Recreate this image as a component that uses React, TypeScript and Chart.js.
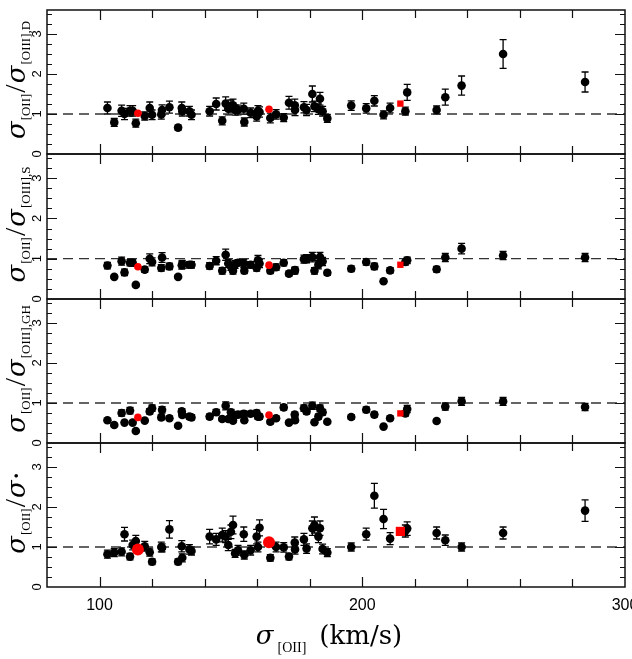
import React, { useEffect, useRef } from "react";
import { Chart, registerables } from "chart.js";

Chart.register(...registerables);

// ---------------- data ----------------
const sigmaOII = [
  103, 105.6, 108.4, 109.5, 111.6, 112.6, 113.8, 117.2, 119.1, 120,
  123.5, 123.8, 126.6, 129.9, 131.3, 131.5, 134.2, 135, 141.9, 144.4,
  146.7, 148, 149, 150, 150.8, 151.6, 152.7, 154.9, 155.1, 157.5,
  159.8, 160.3, 160.9, 165, 167.2, 170.1, 172.1, 174.3, 174.4, 177.8,
  178.8, 181, 181.8, 183.3, 183.9, 184.9, 186.7, 195.8, 201.5, 204.6,
  208.1, 210.6, 216.4, 217.1, 228.3, 231.6, 237.8, 253.6, 284.8,
];

const ratioD = [
  1.15, 0.79, 1.08, 1.0, 1.08, 1.08, 0.77, 0.95, 1.15, 0.98,
  0.99, 1.1, 1.17, 0.66, 1.15, 1.07, 1.07, 0.98, 1.07, 1.25,
  0.83, 1.26, 1.13, 1.2, 1.22, 1.1, 1.1, 1.13, 0.8, 1.03,
  0.94, 1.08, 1.05, 0.9, 0.99, 0.91, 1.28, 1.22, 1.1, 1.17,
  1.1, 1.5, 1.19, 1.12, 1.38, 1.07, 0.89, 1.21, 1.14, 1.33,
  0.98, 1.15, 1.07, 1.54, 1.1, 1.42, 1.71, 2.5, 1.8,
];
const errD = [
  0.15, 0.1, 0.14, 0.14, 0.13, 0.13, 0.1, 0.1, 0.15, 0.12,
  0.12, 0.13, 0.15, 0.06, 0.15, 0.12, 0.12, 0.12, 0.12, 0.15,
  0.1, 0.17, 0.15, 0.15, 0.15, 0.13, 0.12, 0.14, 0.1, 0.12,
  0.12, 0.13, 0.13, 0.12, 0.12, 0.1, 0.16, 0.15, 0.14, 0.14,
  0.14, 0.2, 0.13, 0.13, 0.16, 0.12, 0.1, 0.12, 0.12, 0.13,
  0.1, 0.12, 0.1, 0.2, 0.1, 0.2, 0.24, 0.36, 0.25,
];

const ratioS = [
  0.83, 0.55, 0.94, 0.66, 0.9, 0.9, 0.35, 0.73, 1.0, 0.92,
  0.77, 1.03, 0.81, 0.55, 0.84, 0.86, 0.85, 0.85, 0.82, 0.95,
  0.7, 1.1, 0.88, 0.81, 0.7, 0.86, 0.9, 0.88, 0.7, 0.85,
  0.77, 0.96, 0.88, 0.7, 0.79, 0.9, 0.63, 0.7, 0.72, 0.99,
  1.0, 1.04, 0.7, 0.85, 1.04, 0.93, 0.65, 0.75, 0.92, 0.81,
  0.44, 0.71, 0.92, 0.96, 0.74, 1.03, 1.25, 1.08, 1.03,
];
const errS = [
  0.08, 0.04, 0.1, 0.08, 0.08, 0.08, 0.04, 0.07, 0.12, 0.1,
  0.08, 0.12, 0.08, 0.04, 0.1, 0.1, 0.08, 0.08, 0.08, 0.1,
  0.08, 0.14, 0.1, 0.1, 0.08, 0.1, 0.08, 0.1, 0.07, 0.08,
  0.08, 0.12, 0.1, 0.07, 0.08, 0.08, 0.06, 0.08, 0.08, 0.1,
  0.1, 0.12, 0.08, 0.1, 0.12, 0.1, 0.06, 0.07, 0.08, 0.08,
  0.04, 0.07, 0.08, 0.08, 0.07, 0.1, 0.13, 0.1, 0.1,
];

const ratioGH = [
  0.57, 0.45, 0.75, 0.51, 0.81, 0.51, 0.3, 0.56, 0.79, 0.87,
  0.64, 0.83, 0.62, 0.43, 0.79, 0.7, 0.66, 0.64, 0.66, 0.77,
  0.6, 0.93, 0.6, 0.77, 0.56, 0.7, 0.71, 0.73, 0.57, 0.73,
  0.75, 0.66, 0.66, 0.53, 0.62, 0.89, 0.51, 0.71, 0.57, 0.87,
  0.79, 0.93, 0.52, 0.66, 0.87, 0.77, 0.53, 0.65, 0.83, 0.71,
  0.41, 0.62, 0.74, 0.85, 0.55, 0.91, 1.04, 1.04, 0.9,
];
const errGH = [
  0.04, 0.04, 0.08, 0.04, 0.08, 0.04, 0.04, 0.04, 0.07, 0.08,
  0.06, 0.08, 0.05, 0.04, 0.07, 0.06, 0.06, 0.06, 0.06, 0.07,
  0.05, 0.1, 0.05, 0.07, 0.05, 0.06, 0.06, 0.07, 0.05, 0.06,
  0.07, 0.06, 0.06, 0.05, 0.05, 0.07, 0.04, 0.06, 0.05, 0.08,
  0.07, 0.09, 0.04, 0.06, 0.08, 0.07, 0.04, 0.06, 0.07, 0.06,
  0.04, 0.05, 0.07, 0.09, 0.04, 0.09, 0.1, 0.1, 0.09,
];

const ratioStar = [
  0.82, 0.86, 0.88, 1.32, 0.76, 1.05, 1.15, 1.02, 0.87, 0.63,
  1.0, 0.98, 1.44, 0.63, 1.02, 0.73, 0.94, 0.9, 1.26, 1.19,
  1.3, 1.26, 1.05, 1.38, 1.55, 0.84, 0.92, 1.32, 0.8, 0.92,
  1.26, 1.0, 1.48, 0.73, 1.0, 0.99, 0.76, 1.11, 0.94, 1.19,
  0.96, 1.47, 1.55, 1.26, 1.47, 0.95, 0.86, 1.0, 1.32, 2.28,
  1.7, 1.21, 1.4, 1.46, 1.35, 1.17, 1.0, 1.35, 1.91,
];
const errStar = [
  0.1, 0.1, 0.1, 0.17, 0.08, 0.12, 0.14, 0.12, 0.1, 0.07,
  0.12, 0.1, 0.22, 0.07, 0.14, 0.1, 0.12, 0.1, 0.18, 0.15,
  0.17, 0.15, 0.14, 0.17, 0.22, 0.1, 0.12, 0.18, 0.1, 0.12,
  0.18, 0.12, 0.2, 0.08, 0.12, 0.12, 0.08, 0.14, 0.12, 0.15,
  0.12, 0.18, 0.2, 0.15, 0.18, 0.12, 0.1, 0.1, 0.15, 0.31,
  0.24, 0.15, 0.15, 0.17, 0.15, 0.13, 0.1, 0.15, 0.27,
];

// red (special) objects
const redSigmaCircle = [114.6, 164.5];
const redSigmaSquare = [214.5];
const redD = [1.02, 1.12, 1.26];
const redS = [0.8, 0.84, 0.85];
const redGH = [0.64, 0.7, 0.74];
const redStar = [0.94, 1.12, 1.39];

const xTickLabels = [100, 200, 300];
const xTickValues = [100, 120, 140, 160, 180, 200, 220, 240, 260, 280];
const yTickLabels = [0, 1, 2, 3];
const X_MIN = 80;
const X_MAX = 300;
const Y_MIN = 0;
const Y_MAX = 3.6;

// ---------------- layout ----------------
const W = 632;
const H = 659;
const PLOT_LEFT = 47;
const PLOT_RIGHT = 625;

type Part = { t: string; font: string; dy: number; gap?: number };

const SIG = "italic 26px 'DejaVu Serif'";
const SUB = "13px 'Liberation Serif'";
const SLASH = "30px 'Liberation Serif'";

function labelParts(sub2: string): Part[] {
  return [
    { t: "σ", font: SIG, dy: 0 },
    { t: "[OII]", font: SUB, dy: 5, gap: 1 },
    { t: "/", font: SLASH, dy: 0, gap: 1 },
    { t: "σ", font: SIG, dy: 0, gap: 1 },
    { t: sub2, font: SUB, dy: 5, gap: 1 },
  ];
}

const starParts: Part[] = [
  { t: "σ", font: SIG, dy: 0 },
  { t: "[OII]", font: SUB, dy: 5, gap: 1 },
  { t: "/", font: SLASH, dy: 0, gap: 1 },
  { t: "σ", font: SIG, dy: 0, gap: 1 },
  { t: "•", font: "12px 'DejaVu Sans'", dy: -4, gap: 1 },
];

interface PanelCfg {
  top: number;
  bottom: number;
  ys: number[];
  errs: number[];
  red: number[];
  label: Part[];
  bigRed: boolean;
  bottomAxis: boolean;
}

const panels: PanelCfg[] = [
  { top: 10, bottom: 154, ys: ratioD, errs: errD, red: redD, label: labelParts("[OIII],D"), bigRed: false, bottomAxis: false },
  { top: 154, bottom: 299, ys: ratioS, errs: errS, red: redS, label: labelParts("[OIII],S"), bigRed: false, bottomAxis: false },
  { top: 299, bottom: 443, ys: ratioGH, errs: errGH, red: redGH, label: labelParts("[OIII],GH"), bigRed: false, bottomAxis: false },
  { top: 443, bottom: 587, ys: ratioStar, errs: errStar, red: redStar, label: starParts, bigRed: true, bottomAxis: true },
];

function drawParts(ctx: CanvasRenderingContext2D, parts: Part[], x: number, y: number, rotate: boolean) {
  ctx.save();
  ctx.translate(x, y);
  if (rotate) ctx.rotate(-Math.PI / 2);
  ctx.textAlign = "left";
  ctx.textBaseline = "alphabetic";
  ctx.fillStyle = "#000";
  const widths = parts.map((p) => {
    ctx.font = p.font;
    return ctx.measureText(p.t).width;
  });
  let total = 0;
  parts.forEach((p, i) => (total += widths[i] + (p.gap || 0)));
  let cx = -total / 2;
  parts.forEach((p, i) => {
    cx += p.gap || 0;
    ctx.font = p.font;
    ctx.fillText(p.t, cx, p.dy);
    cx += widths[i];
  });
  ctx.restore();
}

function makePlugin(cfg: PanelCfg) {
  return {
    id: "panelDeco",
    beforeDatasetsDraw(chart: any) {
      const ctx: CanvasRenderingContext2D = chart.ctx;
      const xs = chart.scales.x;
      const ys = chart.scales.y;
      const a = chart.chartArea;
      ctx.save();
      ctx.beginPath();
      ctx.rect(a.left, a.top, a.right - a.left, a.bottom - a.top);
      ctx.clip();
      ctx.strokeStyle = "#000";
      ctx.lineWidth = 1.3;
      sigmaOII.forEach((sx, i) => {
        const px = xs.getPixelForValue(sx);
        const t = ys.getPixelForValue(cfg.ys[i] + cfg.errs[i]);
        const b = ys.getPixelForValue(cfg.ys[i] - cfg.errs[i]);
        ctx.beginPath();
        ctx.moveTo(px, t);
        ctx.lineTo(px, b);
        ctx.moveTo(px - 3.5, t);
        ctx.lineTo(px + 3.5, t);
        ctx.moveTo(px - 3.5, b);
        ctx.lineTo(px + 3.5, b);
        ctx.stroke();
      });
      ctx.restore();
    },
    afterDraw(chart: any) {
      const ctx: CanvasRenderingContext2D = chart.ctx;
      const xs = chart.scales.x;
      const ys = chart.scales.y;
      const a = chart.chartArea;
      ctx.save();
      ctx.strokeStyle = "#111";
      ctx.lineWidth = 1.5;
      ctx.strokeRect(a.left, a.top, a.right - a.left, a.bottom - a.top);
      ctx.lineWidth = 1.2;
      ctx.beginPath();
      xTickValues.forEach((v) => {
        const px = Math.round(xs.getPixelForValue(v)) + 0.5;
        const len = v % 100 === 0 ? 10 : 8;
        ctx.moveTo(px, a.top);
        ctx.lineTo(px, a.top + len);
        ctx.moveTo(px, a.bottom);
        ctx.lineTo(px, a.bottom - len);
      });
      for (let v = 0.25; v < Y_MAX; v += 0.25) {
        const py = Math.round(ys.getPixelForValue(v)) + 0.5;
        const len = Math.abs(v - Math.round(v)) < 1e-6 ? 10 : 5;
        ctx.moveTo(a.left, py);
        ctx.lineTo(a.left + len, py);
        ctx.moveTo(a.right, py);
        ctx.lineTo(a.right - len, py);
      }
      ctx.stroke();

      // rotated y tick labels
      ctx.fillStyle = "#000";
      ctx.font = "13px 'Liberation Sans'";
      ctx.textAlign = "center";
      ctx.textBaseline = "middle";
      yTickLabels.forEach((v) => {
        const py = ys.getPixelForValue(v);
        ctx.save();
        ctx.translate(37, py);
        ctx.rotate(-Math.PI / 2);
        ctx.fillText(String(v), 0, 0);
        ctx.restore();
      });

      // y title
      drawParts(ctx, cfg.label, 25, (a.top + a.bottom) / 2 - 2, true);

      if (cfg.bottomAxis) {
        ctx.font = "16px 'Liberation Sans'";
        ctx.textAlign = "center";
        ctx.textBaseline = "middle";
        xTickLabels.forEach((v) => {
          ctx.fillText(String(v), xs.getPixelForValue(v), 606);
        });
        drawParts(
          ctx,
          [
            { t: "σ", font: "italic 26px 'DejaVu Serif'", dy: 0 },
            { t: "[OII]", font: "14px 'Liberation Serif'", dy: 8, gap: 4 },
            { t: "(km/s)", font: "26px 'DejaVu Serif'", dy: 0, gap: 13 },
          ],
          329,
          644,
          false
        );
      }
      ctx.restore();
    },
  };
}

function Panel({ cfg }: { cfg: PanelCfg }) {
  const ref = useRef<HTMLCanvasElement | null>(null);
  useEffect(() => {
    if (!ref.current) return;
    const redR = cfg.bigRed ? 6 : 3.8;
    const redSq = cfg.bigRed ? 6.5 : 4.5;
    const chart = new Chart(ref.current, {
      type: "scatter",
      data: {
        datasets: [
          {
            type: "scatter",
            data: redSigmaCircle.map((x, i) => ({ x, y: cfg.red[i] })),
            backgroundColor: "#ff0000",
            borderWidth: 0,
            pointRadius: redR,
            pointStyle: "circle",
          } as any,
          {
            type: "scatter",
            data: redSigmaSquare.map((x, i) => ({ x, y: cfg.red[i + redSigmaCircle.length] })),
            backgroundColor: "#ff0000",
            borderWidth: 0,
            pointRadius: redSq,
            pointStyle: "rect",
          } as any,
          {
            type: "scatter",
            data: sigmaOII.map((x, i) => ({ x, y: cfg.ys[i] })),
            backgroundColor: "#000",
            borderWidth: 0,
            pointRadius: 4.3,
            pointStyle: "circle",
          } as any,
          {
            type: "line",
            data: [
              { x: X_MIN, y: 1 },
              { x: X_MAX, y: 1 },
            ],
            borderColor: "#333",
            borderWidth: 1.3,
            borderDash: [10, 6],
            pointRadius: 0,
            fill: false,
          } as any,
        ],
      },
      options: {
        responsive: false,
        animation: false,
        events: [],
        layout: {
          padding: {
            left: PLOT_LEFT,
            right: W - PLOT_RIGHT,
            top: cfg.top,
            bottom: H - cfg.bottom,
          },
        },
        plugins: { legend: { display: false }, tooltip: { enabled: false } },
        scales: {
          x: { type: "linear", min: X_MIN, max: X_MAX, display: false },
          y: { type: "linear", min: Y_MIN, max: Y_MAX, display: false },
        },
      },
      plugins: [makePlugin(cfg)],
    } as any);
    return () => chart.destroy();
  }, [cfg]);
  return (
    <canvas
      ref={ref}
      width={W}
      height={H}
      style={{ position: "absolute", left: 0, top: 0, width: W, height: H }}
    />
  );
}

export default function App() {
  return (
    <div style={{ position: "absolute", left: 0, top: 0, width: W, height: H, background: "#fff" }}>
      {panels.map((p, i) => (
        <Panel key={i} cfg={p} />
      ))}
    </div>
  );
}
